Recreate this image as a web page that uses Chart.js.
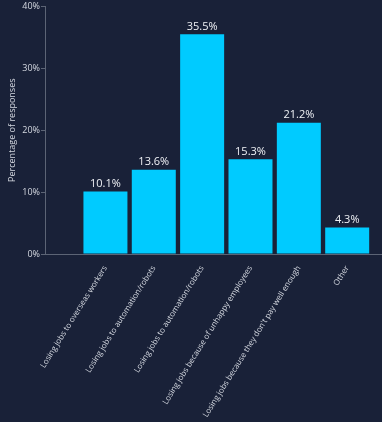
<!DOCTYPE html>
<html>
<head>
<meta charset="utf-8">
<script src="https://cdn.jsdelivr.net/npm/chart.js@4.4.1/dist/chart.umd.min.js"></script>
<style>
  html, body { margin: 0; padding: 0; background: #192138; }
  #wrap { width: 382px; height: 422px; }
</style>
</head>
<body>
<div id="wrap"><canvas id="surveyChart" width="382" height="422"></canvas></div>
<script>
const categories = [
    'Losing jobs to overseas workers',
    'Losing jobs to automation/robots',
    'Losing jobs to automation/robots',
    'Losing jobs because of unhappy employees',
    "Losing jobs because they don't pay well enough",
    'Other'
];
const responses = [10.1, 13.6, 35.5, 15.3, 21.2, 4.3];
const yTicks = [0, 10, 20, 30, 40];

const textColor = '#d4d8e0';
const axisColor = '#5c6475';

// draws the value above each bar
const valueLabels = {
    id: 'valueLabels',
    afterDatasetsDraw(chart) {
        const ctx = chart.ctx;
        const meta = chart.getDatasetMeta(0);
        ctx.save();
        ctx.fillStyle = '#f0f2f6';
        ctx.font = '11px "Open Sans"';
        ctx.textAlign = 'center';
        ctx.textBaseline = 'bottom';
        meta.data.forEach(function(bar, i) {
            ctx.fillText(responses[i].toFixed(1) + '%', bar.x, bar.y - 2);
        });
        ctx.restore();
    }
};

const ctx = document.getElementById('surveyChart').getContext('2d');
const chart = new Chart(ctx, {
    type: 'bar',
    data: {
        datasets: [{
            data: responses.map(function(v, i) { return {x: i, y: v}; }),
            backgroundColor: '#00cbff',
            borderWidth: 0,
            barPercentage: 0.91,
            categoryPercentage: 1
        }]
    },
    options: {
        responsive: false,
        animation: false,
        layout: { padding: { top: 2, right: 0, left: 0, bottom: 0 } },
        plugins: {
            legend: { display: false },
            tooltip: { enabled: false }
        },
        scales: {
            x: {
                type: 'linear',
                offset: false,
                min: -1.25,
                max: 5.72,
                grid: { display: false },
                border: { display: true, color: axisColor, width: 1 },
                ticks: {
                    stepSize: 1,
                    includeBounds: false,
                    autoSkip: false,
                    maxRotation: 58,
                    minRotation: 58,
                    padding: 2,
                    color: textColor,
                    font: { family: 'Open Sans', size: 8 },
                    callback: function(value) {
                        return categories[value] !== undefined ? categories[value] : '';
                    }
                },
                afterFit: function(scale) {
                    scale.height = 168;
                    scale.paddingLeft = 0;
                    scale.paddingRight = 0;
                }
            },
            y: {
                min: 0,
                max: 40,
                afterBuildTicks: function(scale) {
                    scale.ticks = yTicks.map(function(v) { return {value: v}; });
                },
                grid: { drawOnChartArea: false, drawTicks: true, tickLength: 4, color: axisColor },
                border: { display: true, color: axisColor, width: 1 },
                ticks: {
                    padding: 1,
                    color: textColor,
                    font: { family: 'Open Sans', size: 9 },
                    callback: function(value) { return value + '%'; }
                },
                title: {
                    display: true,
                    text: 'Percentage of responses',
                    color: textColor,
                    font: { family: 'Open Sans', size: 9 },
                    padding: { top: 7, bottom: 2 }
                },
                afterFit: function(scale) { scale.width = 45; }
            }
        }
    },
    plugins: [valueLabels]
});
</script>
</body>
</html>
